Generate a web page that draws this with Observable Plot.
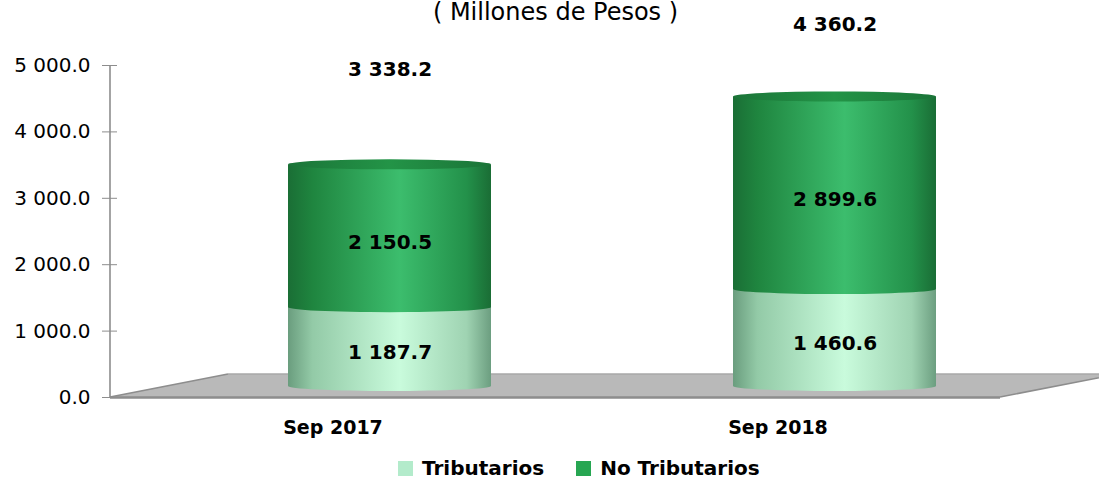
<!DOCTYPE html>
<html>
<head>
<meta charset="utf-8">
<script src="https://cdn.jsdelivr.net/npm/d3@7"></script>
<script src="https://cdn.jsdelivr.net/npm/@observablehq/plot@0.6"></script>
<style>
  html, body { margin: 0; padding: 0; background: #fff; }
  body { font-family: "DejaVu Sans", sans-serif; width: 1099px; }
  #chart svg { display: block; overflow: visible; }
  .legend { display: flex; align-items: center; margin-top: 6px; padding-left: 398px; height: 20px;
            font-weight: bold; font-size: 20px; line-height: 20px; color: #000; }
  .legend .sw { width: 15px; height: 15px; margin-right: 9px; }
  .legend .item { display: flex; align-items: center; }
  .legend .item + .item { margin-left: 32px; }
</style>
</head>
<body>
<div id="chart"></div>
<div class="legend" id="legend"></div>
<script>
// ---- data ----
const periods = ["Sep 2017", "Sep 2018"];
const tributarios = [1187.7, 1460.6];
const noTributarios = [2150.5, 2899.6];
const totals = [3338.2, 4360.2];
const yTicks = [0, 1000, 2000, 3000, 4000, 5000];
const seriesNames = ["Tributarios", "No Tributarios"];
const titleText = "( Millones de Pesos )";

// ---- derived table ----
const rows = periods.flatMap((p, i) => [
  {period: p, series: seriesNames[0], y1: 0, y2: tributarios[i], v: tributarios[i]},
  {period: p, series: seriesNames[1], y1: tributarios[i], y2: tributarios[i] + noTributarios[i], v: noTributarios[i]}
]);
const totalRows = periods.map((p, i) => ({period: p, total: totals[i]}));

// ---- styles ----
const FONT = "DejaVu Sans";
const DX = 57, DY = -11;            // cylinder depth offset (3D look)
const DEPTH_X = 118, DEPTH_Y = -23; // floor depth
const fillFor = {"Tributarios": "url(#gTrib)", "No Tributarios": "url(#gNon)"};
const legendColors = {"Tributarios": "#b3ebcb", "No Tributarios": "#27a652"};

const fmt = d3.formatLocale({decimal: ".", thousands: " ", grouping: [3], currency: ["", ""]}).format(",.1f");

function floorMark(index, scales, values, dimensions) {
  const {width, height, marginLeft, marginRight, marginBottom} = dimensions;
  const y0 = scales && scales.y ? scales.y(0) : height - marginBottom;
  const xl = marginLeft, xr = width - marginRight;
  const g = d3.create("svg:g");
  g.append("path")
    .attr("d", `M${xl},${y0}L${xr},${y0}L${xr + DEPTH_X},${y0 + DEPTH_Y}L${xl + DEPTH_X},${y0 + DEPTH_Y}Z`)
    .attr("fill", "#b9b9b9");
  g.append("path")
    .attr("d", `M${xl + DEPTH_X},${y0 + DEPTH_Y}L${xr + DEPTH_X},${y0 + DEPTH_Y}`)
    .attr("stroke", "#a9a9a9").attr("stroke-width", 1.5).attr("fill", "none");
  g.append("path")
    .attr("d", `M${xl},${y0}L${xl + DEPTH_X},${y0 + DEPTH_Y}M${xr},${y0}L${xr + DEPTH_X},${y0 + DEPTH_Y}`)
    .attr("stroke", "#8d8d8d").attr("stroke-width", 1.6).attr("fill", "none");
  g.append("path")
    .attr("d", `M${xl},${y0 + 0.5}L${xr},${y0 + 0.5}`)
    .attr("stroke", "#8d8d8d").attr("stroke-width", 2.5).attr("fill", "none");
  return g.node();
}

function axisLineMark(index, scales, values, dimensions) {
  const {height, marginLeft, marginTop, marginBottom} = dimensions;
  const yTop = scales && scales.y ? scales.y(5000) : marginTop;
  const yBot = scales && scales.y ? scales.y(0) : height - marginBottom;
  return d3.create("svg:path")
    .attr("d", `M${marginLeft},${yTop}L${marginLeft},${yBot}`)
    .attr("stroke", "#8d8d8d").attr("stroke-width", 1.6).attr("fill", "none").node();
}

const ellipse = (data, yField, fill) => Plot.barY(data, {
  x: "period", y1: yField, y2: yField, insetTop: -5, insetBottom: -5,
  rx: 110, ry: 5, dx: DX, dy: DY, fill
});

const marks = [floorMark, axisLineMark,
  Plot.axisY(yTicks, {tickSize: 15, dx: 7, tickPadding: 12, tickFormat: fmt,
    stroke: "#8d8d8d", fill: "#000", fontSize: 20, fontFamily: FONT})
];
for (const s of seriesNames) {
  const d = rows.filter(r => r.series === s);
  marks.push(ellipse(d, "y1", fillFor[s]));
  marks.push(Plot.barY(d, {x: "period", y1: "y1", y2: "y2", dx: DX, dy: DY, fill: fillFor[s]}));
}
marks.push(ellipse(totalRows, "total", "url(#gCap)"));
marks.push(Plot.text(rows, {x: "period", y: d => (d.y1 + d.y2) / 2, text: d => fmt(d.v), dx: DX, dy: -5,
  fontWeight: "bold", fontSize: 20, fontFamily: FONT, fill: "#000"}));
marks.push(Plot.text(totalRows.slice(0, 1), {x: "period", y: "total", text: d => fmt(d.total), dx: DX, dy: -106,
  fontWeight: "bold", fontSize: 20, fontFamily: FONT, fill: "#000"}));
marks.push(Plot.text(totalRows.slice(1, 2), {x: "period", y: "total", text: d => fmt(d.total), dx: DX, dy: -83,
  fontWeight: "bold", fontSize: 20, fontFamily: FONT, fill: "#000"}));
marks.push(Plot.text(periods, {x: d => d, frameAnchor: "bottom", dy: 36, text: d => d,
  fontWeight: "bold", fontSize: 19, fontFamily: FONT, fill: "#000"}));
marks.push(Plot.text([titleText], {frameAnchor: "top", dx: 0, dy: -63, text: d => d,
  fontSize: 24, fontFamily: FONT, fill: "#000"}));

const svg = Plot.plot({
  width: 1099, height: 452,
  marginLeft: 110, marginRight: 99, marginTop: 65, marginBottom: 55,
  style: {fontFamily: FONT, background: "transparent", overflow: "visible"},
  x: {domain: periods, paddingInner: 0.544, paddingOuter: 0.272, axis: null},
  y: {domain: [0, 5000], axis: null},
  marks
});

const defs = `
<defs>
  <linearGradient id="gNon" x1="0" x2="1" y1="0" y2="0">
    <stop offset="0" stop-color="#1a6e35"/>
    <stop offset="0.12" stop-color="#1f853f"/>
    <stop offset="0.55" stop-color="#3cbd6d"/>
    <stop offset="0.88" stop-color="#23914a"/>
    <stop offset="1" stop-color="#1a6d35"/>
  </linearGradient>
  <linearGradient id="gTrib" x1="0" x2="1" y1="0" y2="0">
    <stop offset="0" stop-color="#6a9d7e"/>
    <stop offset="0.12" stop-color="#93caa7"/>
    <stop offset="0.55" stop-color="#c9fbdc"/>
    <stop offset="0.88" stop-color="#9fd3b2"/>
    <stop offset="1" stop-color="#6c9e80"/>
  </linearGradient>
  <linearGradient id="gCap" x1="0" x2="1" y1="0" y2="0">
    <stop offset="0" stop-color="#1b7438"/>
    <stop offset="0.5" stop-color="#239447"/>
    <stop offset="1" stop-color="#1b7438"/>
  </linearGradient>
</defs>`;
svg.insertAdjacentHTML("afterbegin", defs);
document.getElementById("chart").appendChild(svg);

const legend = document.getElementById("legend");
for (const s of seriesNames) {
  const item = document.createElement("div");
  item.className = "item";
  const sw = document.createElement("div");
  sw.className = "sw";
  sw.style.background = legendColors[s];
  const t = document.createElement("span");
  t.textContent = s;
  item.appendChild(sw); item.appendChild(t);
  legend.appendChild(item);
}
</script>
</body>
</html>
